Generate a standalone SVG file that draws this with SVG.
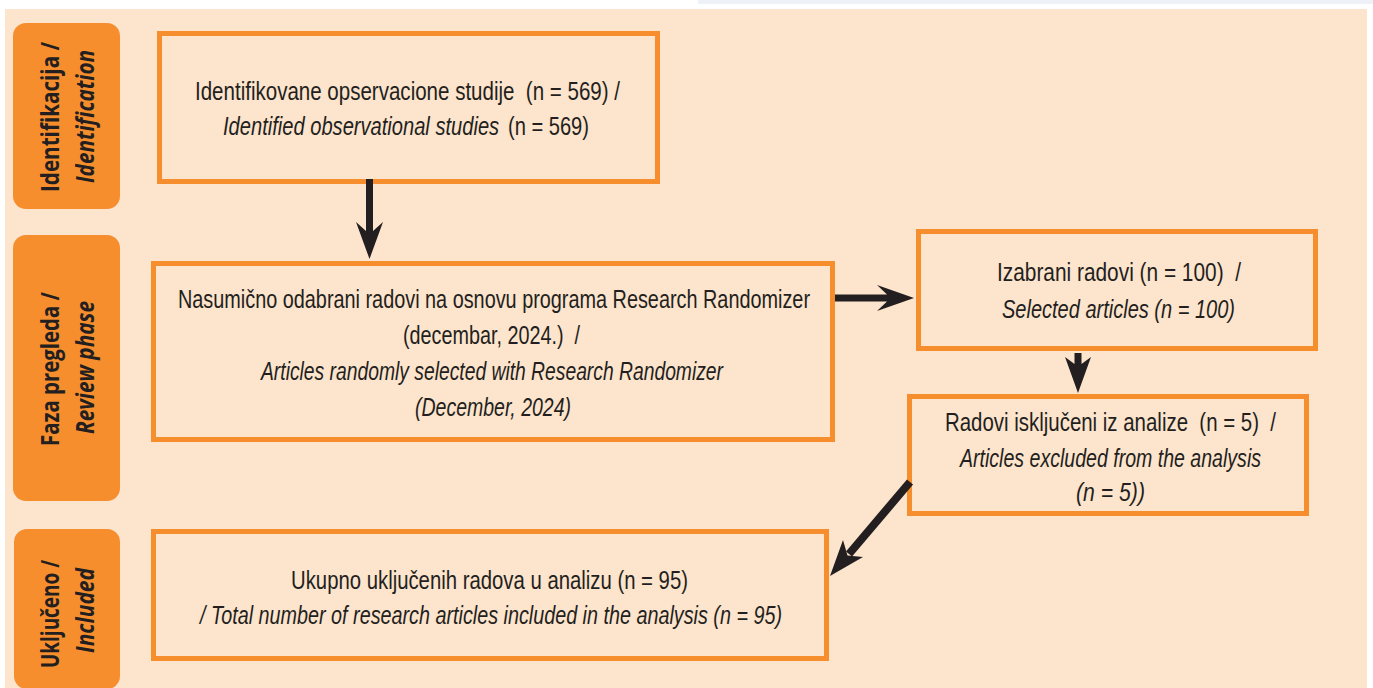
<svg xmlns="http://www.w3.org/2000/svg" width="1373" height="688" viewBox="0 0 1373 688">
<style>
.bg{fill:#FDE4CC}
.lab{fill:#F68E2E}
.box{fill:none;stroke:#F68E2E;stroke-width:5}
.t{font-family:"Liberation Sans",Arial,sans-serif;font-size:25px;fill:#231F20;white-space:pre}
.i{font-style:italic}
.lt{font-family:"Open Sans","Liberation Sans",sans-serif;font-size:25px;font-weight:700;fill:#231F20;text-anchor:middle}
.arr{fill:#231F20}
</style>
<rect x="0" y="0" width="1373" height="688" fill="#FFFFFF"/>
<rect x="698" y="0" width="675" height="4" fill="#EEF2F8"/>
<rect class="bg" x="5" y="9" width="1362" height="679"/>

<g id="label-identification">
<rect class="lab" x="13" y="23" width="107" height="186" rx="13"/>
<text class="lt" transform="translate(59,117) rotate(-90)" textLength="150" lengthAdjust="spacingAndGlyphs">Identifikacija /</text>
<text class="lt" font-style="italic" transform="translate(94,116.5) rotate(-90)" textLength="133" lengthAdjust="spacingAndGlyphs">Identification</text>
</g>
<g id="label-review">
<rect class="lab" x="13" y="235" width="107" height="266" rx="13"/>
<text class="lt" transform="translate(59,369) rotate(-90)" textLength="154" lengthAdjust="spacingAndGlyphs">Faza pregleda /</text>
<text class="lt" font-style="italic" transform="translate(94,367.5) rotate(-90)" textLength="133" lengthAdjust="spacingAndGlyphs">Review phase</text>
</g>
<g id="label-included">
<rect class="lab" x="14" y="529" width="106" height="160" rx="13"/>
<text class="lt" transform="translate(59,614) rotate(-90)" textLength="108" lengthAdjust="spacingAndGlyphs">Uključeno /</text>
<text class="lt" font-style="italic" transform="translate(94,610.5) rotate(-90)" textLength="85" lengthAdjust="spacingAndGlyphs">Included</text>
</g>

<g id="box-identified">
<rect class="box" x="159.5" y="33.5" width="498" height="148"/>
<text class="t" x="195" y="100" textLength="425" lengthAdjust="spacingAndGlyphs">Identifikovane opservacione studije  (n = 569) /</text>
<text class="t" x="223" y="135" textLength="366" lengthAdjust="spacingAndGlyphs"><tspan class="i">Identified observational studies</tspan><tspan dx="4"> (n = 569)</tspan></text>
</g>

<g id="box-random">
<rect class="box" x="153.5" y="263.5" width="679" height="176"/>
<text class="t" x="178" y="308" textLength="632" lengthAdjust="spacingAndGlyphs">Nasumično odabrani radovi na osnovu programa Research Randomizer</text>
<text class="t" x="403" y="344" textLength="177" lengthAdjust="spacingAndGlyphs">(decembar, 2024.)  /</text>
<text class="t i" x="261" y="380" textLength="462" lengthAdjust="spacingAndGlyphs">Articles randomly selected with Research Randomizer</text>
<text class="t i" x="415" y="416" textLength="156" lengthAdjust="spacingAndGlyphs">(December, 2024)</text>
</g>

<g id="box-selected">
<rect class="box" x="918.5" y="231.5" width="397" height="117"/>
<text class="t" x="997" y="281" textLength="244" lengthAdjust="spacingAndGlyphs">Izabrani radovi (n = 100)  /</text>
<text class="t i" x="1002" y="318" textLength="233" lengthAdjust="spacingAndGlyphs">Selected articles (n = 100)</text>
</g>

<g id="box-excluded">
<rect class="box" x="909.5" y="396.5" width="397" height="117"/>
<text class="t" x="945" y="431" textLength="331" lengthAdjust="spacingAndGlyphs">Radovi isključeni iz analize  (n = 5)  /</text>
<text class="t i" x="960" y="467" textLength="301" lengthAdjust="spacingAndGlyphs">Articles excluded from the analysis</text>
<text class="t i" x="1076" y="501" textLength="69" lengthAdjust="spacingAndGlyphs">(n = 5))</text>
</g>

<g id="box-total">
<rect class="box" x="153.5" y="531.5" width="673" height="127"/>
<text class="t" x="291" y="589" textLength="397" lengthAdjust="spacingAndGlyphs">Ukupno uključenih radova u analizu (n = 95)</text>
<text class="t i" x="200" y="624" textLength="582" lengthAdjust="spacingAndGlyphs">/ Total number of research articles included in the analysis (n = 95)</text>
</g>

<g id="connectors">
<polygon class="arr" points="366,179 373,179 373,231 383,222 369.5,259 356,222 366,231"/>
<polygon class="arr" points="835,294.5 887,294.5 877,285 914,298 877,311 887,301.5 835,301.5"/>
<polygon class="arr" points="1074.5,353 1081.5,353 1081.5,364 1091,357 1078,393 1065,357 1074.5,364"/>
<line x1="910" y1="482" x2="849" y2="554" stroke="#231F20" stroke-width="8"/>
<polygon class="arr" points="830,576 843,540 847.5,555.4 863,557"/>
</g>
</svg>
